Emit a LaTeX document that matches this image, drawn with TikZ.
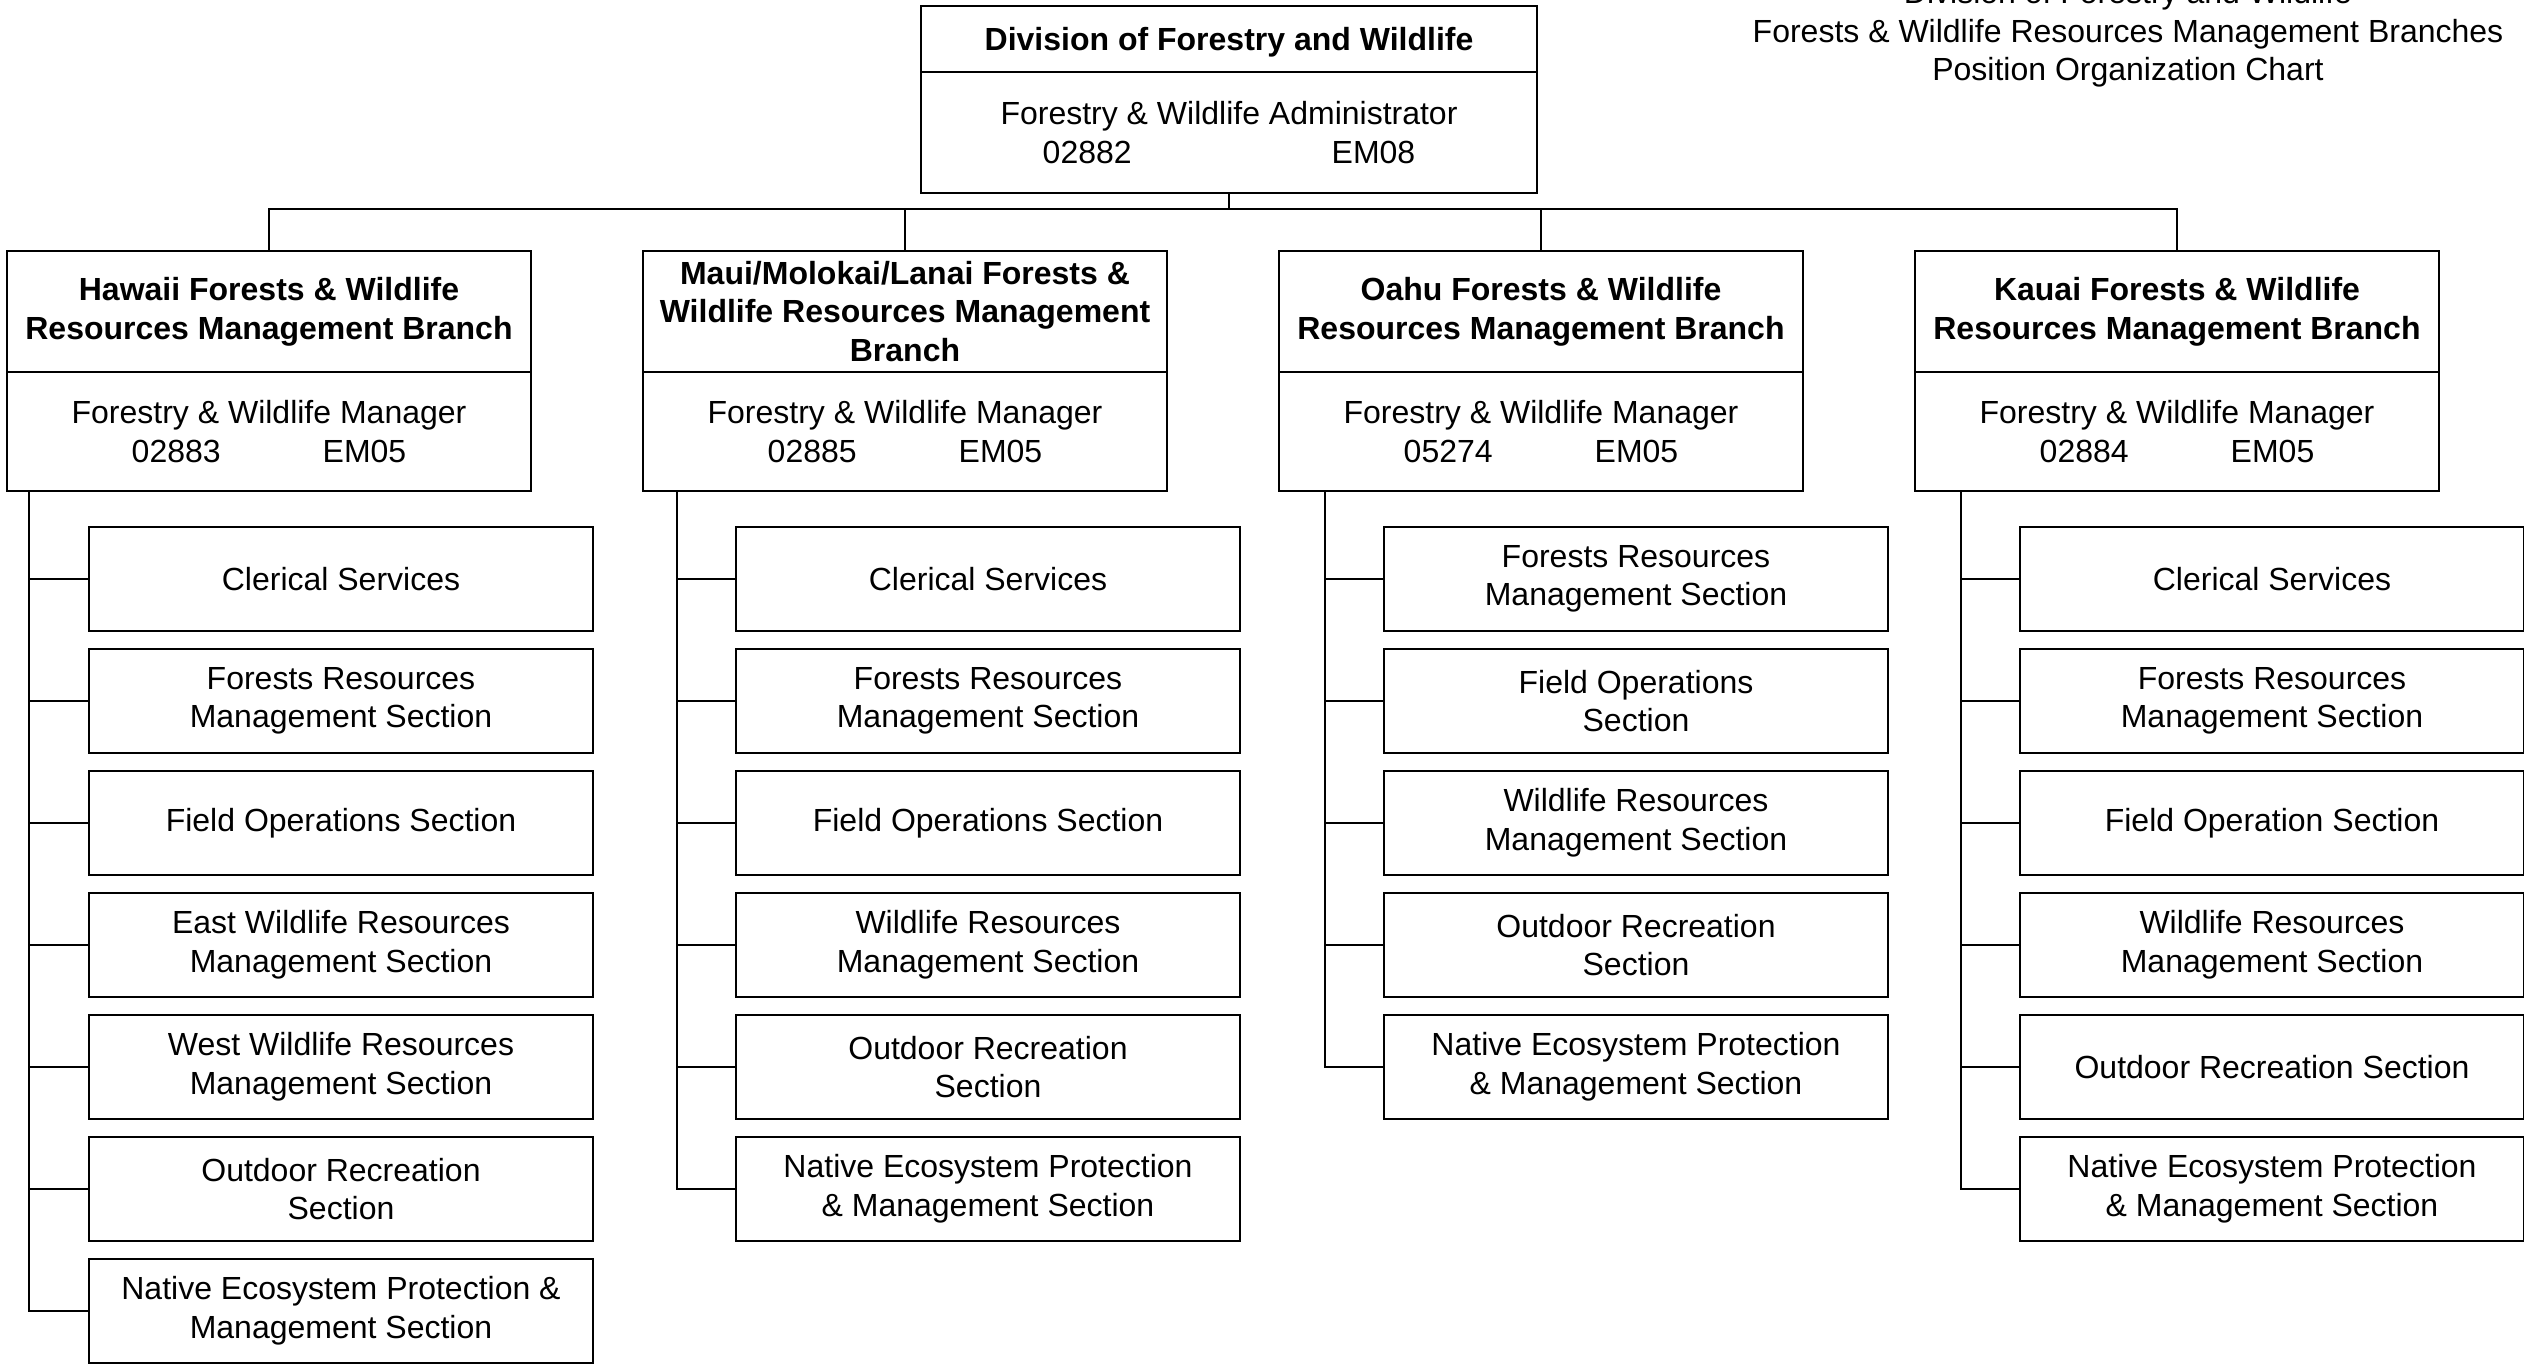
\documentclass[tikz,border=0pt]{standalone}
\usepackage{fontspec}
\setmainfont{Liberation Sans}
\usetikzlibrary{positioning}
\tikzset{
  every node/.style={font=\fontsize{16}{19.3}\selectfont, align=center, inner sep=0pt},
  box/.style={draw, line width=1pt, outer sep=0pt},
  headbox/.style={box, minimum width=262pt, minimum height=60.5pt, font=\fontsize{16}{19.3}\selectfont\bfseries},
  mgrbox/.style={box, minimum width=262pt, minimum height=59.5pt, below=0pt of #1},
  sectbox/.style={box, minimum width=252pt, minimum height=52pt},
}
\begin{document}
\begin{tikzpicture}[x=0.5pt,y=-0.5pt,line width=1pt]
        \useasboundingbox (0,0) rectangle (2524,1364);

        \node (title) at (2128,34) {Division of Forestry and Wildlife\\Forests \& Wildlife Resources Management Branches\\Position Organization Chart};

        \node[box, minimum width=308pt, minimum height=33pt, text depth=0pt, font=\fontsize{16}{19.3}\selectfont\bfseries] (div) at (1229,39) {Division of Forestry and Wildlife};
        \node[box, minimum width=308pt, minimum height=60.5pt, below=0pt of div] (adm) {Forestry \& Wildlife Administrator\\02882\hspace{100pt}EM08};

        \node[headbox] (hd-haw) at (269,311.5) {Hawaii Forests \& Wildlife\\Resources Management Branch};
        \node[mgrbox=hd-haw] (mg-haw) {Forestry \& Wildlife Manager\\02883\hspace{51pt}EM05};
        \node[headbox] (hd-mau) at (905,311.5) {Maui/Molokai/Lanai Forests \&\\Wildlife Resources Management\\Branch};
        \node[mgrbox=hd-mau] (mg-mau) {Forestry \& Wildlife Manager\\02885\hspace{51pt}EM05};
        \node[headbox] (hd-oah) at (1541,311.5) {Oahu Forests \& Wildlife\\Resources Management Branch};
        \node[mgrbox=hd-oah] (mg-oah) {Forestry \& Wildlife Manager\\05274\hspace{51pt}EM05};
        \node[headbox] (hd-kau) at (2177,311.5) {Kauai Forests \& Wildlife\\Resources Management Branch};
        \node[mgrbox=hd-kau] (mg-kau) {Forestry \& Wildlife Manager\\02884\hspace{51pt}EM05};

        \foreach \b in {haw,mau,oah,kau}
            \draw (adm.south) -- ++(0,16) -| (hd-\b.north);

        \coordinate (sp-haw) at ([xshift=11pt]mg-haw.south west);
        \coordinate (sp-mau) at ([xshift=17pt]mg-mau.south west);
        \coordinate (sp-oah) at ([xshift=23pt]mg-oah.south west);
        \coordinate (sp-kau) at ([xshift=23pt]mg-kau.south west);

        \foreach \t [count=\i] in {Clerical Services, {Forests Resources\\Management Section}, Field Operations Section, {East Wildlife Resources\\Management Section}, {West Wildlife Resources\\Management Section}, {Outdoor Recreation\\Section}, {Native Ecosystem Protection \&\\Management Section}} {
            \node[sectbox] (haw\i) at (341,{579+122*(\i-1)}) {\t};
            \draw (sp-haw) |- (haw\i.west);
        }

        \foreach \t [count=\i] in {Clerical Services, {Forests Resources\\Management Section}, Field Operations Section, {Wildlife Resources\\Management Section}, {Outdoor Recreation\\Section}, {Native Ecosystem Protection\\\& Management Section}} {
            \node[sectbox] (mau\i) at (988,{579+122*(\i-1)}) {\t};
            \draw (sp-mau) |- (mau\i.west);
        }

        \foreach \t [count=\i] in {{Forests Resources\\Management Section}, {Field Operations\\Section}, {Wildlife Resources\\Management Section}, {Outdoor Recreation\\Section}, {Native Ecosystem Protection\\\& Management Section}} {
            \node[sectbox] (oah\i) at (1636,{579+122*(\i-1)}) {\t};
            \draw (sp-oah) |- (oah\i.west);
        }

        \foreach \t [count=\i] in {Clerical Services, {Forests Resources\\Management Section}, Field Operation Section, {Wildlife Resources\\Management Section}, Outdoor Recreation Section, {Native Ecosystem Protection\\\& Management Section}} {
            \node[sectbox] (kau\i) at (2272,{579+122*(\i-1)}) {\t};
            \draw (sp-kau) |- (kau\i.west);
        }
    \end{tikzpicture}
\end{document}
